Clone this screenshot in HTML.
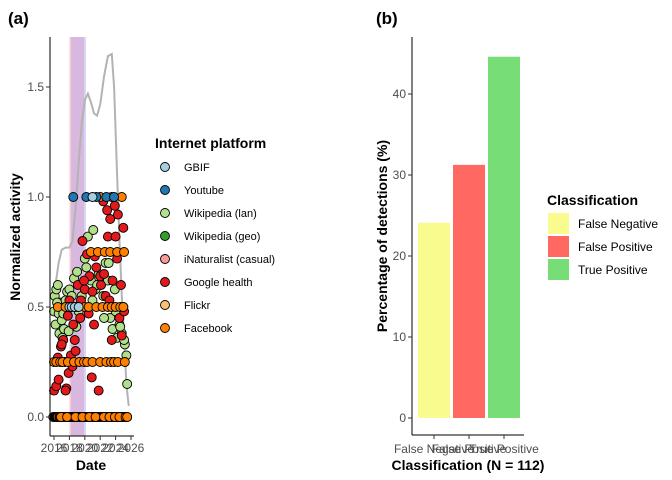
<!DOCTYPE html>
<html><head><meta charset="utf-8"><style>
body{margin:0;background:#fff;}
svg{display:block;font-family:"Liberation Sans",sans-serif;}
</style></head><body>
<svg id="c" width="672" height="480" viewBox="0 0 672 480">
<text x="8" y="24" font-size="17" font-weight="bold">(a)</text>
<text x="376" y="24" font-size="17" font-weight="bold">(b)</text>
<g id="pa"></g>
<g id="pb"></g>
</svg>
<script>
// ---------- Panel (a) data ----------
const yTicksA = [0.0, 0.5, 1.0, 1.5];
const xTicksA = [2016, 2018, 2020, 2022, 2024, 2026];
const densYears = [2016.2,2016.6,2017.0,2017.5,2018.0,2018.4,2018.8,2019.2,2019.6,2020.0,2020.4,2020.8,2021.2,2021.6,2022.0,2022.5,2023.0,2023.5,2023.8,2024.2,2024.5,2024.8,2025.1,2025.4,2025.7];
const densVals = [0.60,0.70,0.76,0.77,0.77,0.80,0.95,1.15,1.33,1.44,1.47,1.43,1.38,1.37,1.42,1.55,1.64,1.65,1.50,1.10,0.80,0.55,0.35,0.15,0.05];
const platforms = ["GBIF","Youtube","Wikipedia (lan)","Wikipedia (geo)","iNaturalist (casual)","Google health","Flickr","Facebook"];
const platColors = ["#a6cee3","#1f78b4","#b2df8a","#33a02c","#fb9a99","#e31a1c","#fdbf6f","#ff7f00"];
const wikiX = [2016.0,2016.1,2016.2,2016.3,2016.5,2016.6,2016.7,2016.8,2017.0,2017.1,2017.3,2017.5,2017.7,2018.0,2018.3,2018.6,2018.9,2019.2,2019.6,2020.0,2020.4,2020.8,2021.1,2021.4,2021.8,2022.1,2022.4,2022.7,2023.0,2023.3,2023.6,2023.9,2024.2,2024.5,2024.8,2025.0,2025.2,2025.4,2016.4,2017.2,2017.9,2019.0,2020.2,2021.0,2021.6,2022.5,2023.1,2024.0,2024.6,2025.1,2025.5];
const wikiY = [0.48,0.55,0.42,0.58,0.60,0.47,0.38,0.52,0.44,0.36,0.40,0.53,0.57,0.58,0.55,0.63,0.41,0.48,0.55,0.72,0.82,0.62,0.85,0.58,0.65,0.60,0.55,0.70,0.62,0.45,0.40,0.58,0.36,0.42,0.38,0.50,0.33,0.28,0.52,0.47,0.39,0.66,0.68,0.53,0.60,0.45,0.70,0.48,0.41,0.35,0.15];
const ghX = [2016.0,2016.3,2016.6,2016.9,2017.2,2017.4,2017.6,2017.8,2018.0,2018.2,2018.5,2018.8,2019.1,2019.4,2019.7,2020.0,2020.3,2020.6,2020.9,2021.2,2021.5,2021.8,2022.1,2022.4,2022.7,2023.0,2023.3,2023.6,2023.9,2024.2,2024.5,2024.8,2025.1,2016.5,2017.0,2017.9,2018.7,2019.5,2020.5,2021.3,2022.0,2022.9,2023.5,2024.3,2025.0,2017.5,2018.4,2019.9,2021.0,2022.5,2023.2,2024.0,2024.7];
const ghY = [0.12,0.14,0.17,0.32,0.35,0.25,0.13,0.46,0.53,0.28,0.42,0.30,0.60,0.45,0.80,0.58,0.74,0.64,0.18,0.42,0.68,0.12,0.60,0.98,0.55,0.82,0.90,0.62,0.96,0.72,0.45,0.37,0.48,0.27,0.33,0.20,0.35,0.53,0.47,0.73,0.64,0.94,0.35,0.92,0.86,0.12,0.23,0.62,0.57,0.65,0.53,0.82,0.60];
const fbX = [2016.5,2017.5,2018.2,2019.0,2020.0,2020.5,2021.5,2022.3,2023.0,2023.5,2024.0,2024.6,2025.0,2016.0,2016.3,2016.8,2017.1,2017.8,2018.6,2019.3,2019.9,2020.3,2021.0,2022.0,2022.8,2023.4,2023.8,2024.3,2025.2,2020.8,2021.7,2022.6,2023.3,2024.2,2025.1,2022.0,2023.5,2024.8,2016.9,2017.7,2018.8,2019.7,2020.6,2021.4,2022.5,2023.2,2023.9,2024.5,2025.3,2025.5];
const fbY = [0.5,0.5,0.5,0.5,0.5,0.5,0.5,0.5,0.5,0.5,0.5,0.5,0.5,0.25,0.25,0.25,0.25,0.25,0.25,0.25,0.25,0.25,0.25,0.25,0.25,0.25,0.25,0.25,0.25,0.75,0.75,0.75,0.75,0.75,0.75,1.0,1.0,1.0,0,0,0,0,0,0,0,0,0,0,0,0];
const ytX = [2018.5,2020.2,2021.5,2022.8,2023.8];
const ytY = [1.0,1.0,1.0,1.0,1.0];
const gbifX = [2018.0,2018.3,2018.7,2019.2,2021.0];
const gbifY = [0.5,0.5,0.5,0.5,1.0];
const zeroX = [2015.9,2016.1,2016.3,2016.5,2016.7,2016.9,2017.1,2017.3,2017.5,2017.7,2017.9,2018.1,2018.3,2018.5,2018.7,2018.9,2019.1,2019.3,2019.5,2019.7,2019.9,2020.1,2020.3,2020.5,2020.7,2020.9,2021.1,2021.3,2021.5,2021.7,2021.9,2022.1,2022.3,2022.5,2022.7,2022.9,2023.1,2023.3,2023.5,2023.7,2023.9,2024.1,2024.3,2024.5,2024.7,2024.9,2025.1,2025.3,2025.5];

// ---------- Panel (b) data ----------
const classes = ["False Negative","False Positive","True Positive"];
const pct = [24.1, 31.25, 44.6];
const classColors = ["#f9fb8e","#ff6961","#77dd77"];
const yTicksB = [0, 10, 20, 30, 40];

const NS="http://www.w3.org/2000/svg";
function mk(p,t,a){const e=document.createElementNS(NS,t);for(const k in a)e.setAttribute(k,a[k]);p.appendChild(e);return e;}

// ---- Panel a ----
const pa=document.getElementById('pa');
const xA=y=>54+(y-2016)*7.7;
const yA=v=>417-v*220;
let r;
r=mk(pa,'rect',{x:xA(2018.0),y:37,width:xA(2018.2)-xA(2018.0),height:399,fill:'#f6cfcf'});

r=mk(pa,'rect',{x:xA(2018.2),y:37,width:xA(2019.9)-xA(2018.2),height:399,fill:'#d8b8df'});

r=mk(pa,'rect',{x:xA(2019.9),y:37,width:xA(2020.15)-xA(2019.9),height:399,fill:'#d4d4f6'});

let d=densYears.map((yr,i)=>(i?'L':'M')+xA(yr).toFixed(1)+','+yA(densVals[i]).toFixed(1)).join('');
r=mk(pa,'path',{d:d,fill:'none',stroke:'#b3b3b3','stroke-width':2});

function pts(xs,ys,col,name){xs.forEach((x,i)=>{const c=mk(pa,'circle',{cx:xA(x),cy:yA(ys[i]),r:4.5,fill:col,stroke:'#000','stroke-width':0.9});

});}
zeroX.forEach((x,i)=>{const c=mk(pa,'circle',{cx:xA(x),cy:yA(0),r:4.5,fill:(i%3==0?'#ff7f00':'#000'),stroke:'#000','stroke-width':0.9});

});
pts(wikiX,wikiY,platColors[2],'point-wikipedia-lan');
pts(ghX,ghY,platColors[5],'point-google-health');
pts(fbX,fbY,platColors[7],'point-facebook');
pts(ytX,ytY,platColors[1],'point-youtube');
pts(gbifX,gbifY,platColors[0],'point-gbif');
r=mk(pa,'line',{x1:50,y1:37,x2:50,y2:436,stroke:'#000','stroke-width':1});

r=mk(pa,'line',{x1:50,y1:436,x2:134,y2:436,stroke:'#000','stroke-width':1});

yTicksA.forEach(v=>{mk(pa,'line',{x1:46,y1:yA(v),x2:50,y2:yA(v),stroke:'#333'});
const t=mk(pa,'text',{x:44,y:yA(v)+4,'font-size':12,'text-anchor':'end',fill:'#4d4d4d'});t.textContent=v.toFixed(1);
});
xTicksA.forEach(v=>{mk(pa,'line',{x1:xA(v),y1:436,x2:xA(v),y2:440,stroke:'#333'});
const t=mk(pa,'text',{x:xA(v),y:452,'font-size':12,'text-anchor':'middle',fill:'#4d4d4d'});t.textContent=v;
});
r=mk(pa,'text',{x:91,y:470,'font-size':14,'font-weight':'bold','text-anchor':'middle'});r.textContent='Date';

r=mk(pa,'text',{x:20,y:237,'font-size':14,'font-weight':'bold','text-anchor':'middle',transform:'rotate(-90 20 237)'});r.textContent='Normalized activity';

r=mk(pa,'text',{x:155,y:148,'font-size':14,'font-weight':'bold'});r.textContent='Internet platform';

platforms.forEach((p,i)=>{const y=167+i*23;
const c=mk(pa,'circle',{cx:165,cy:y,r:4.5,fill:platColors[i],stroke:'#000','stroke-width':0.9});

const t=mk(pa,'text',{x:184,y:y+4,'font-size':11});t.textContent=p;
});

// ---- Panel b ----
const pb=document.getElementById('pb');
const yB=v=>418-v*8.1;
const bx=[434,469,504];
pct.forEach((v,i)=>{const b=mk(pb,'rect',{x:bx[i]-16,y:yB(v),width:32,height:yB(0)-yB(v),fill:classColors[i]});

});
r=mk(pb,'line',{x1:412,y1:37,x2:412,y2:435,stroke:'#000'});

r=mk(pb,'line',{x1:412,y1:435,x2:524,y2:435,stroke:'#000'});

yTicksB.forEach(v=>{mk(pb,'line',{x1:408,y1:yB(v),x2:412,y2:yB(v),stroke:'#333'});
const t=mk(pb,'text',{x:406,y:yB(v)+4,'font-size':12,'text-anchor':'end',fill:'#4d4d4d'});t.textContent=v;
});
classes.forEach((c,i)=>{mk(pb,'line',{x1:bx[i],y1:435,x2:bx[i],y2:439,stroke:'#333'});
const t=mk(pb,'text',{x:bx[i],y:453,'font-size':12,'text-anchor':'middle',fill:'#4d4d4d'});t.textContent=c;
});
r=mk(pb,'text',{x:468,y:470,'font-size':14,'font-weight':'bold','text-anchor':'middle'});r.textContent='Classification (N = 112)';

r=mk(pb,'text',{x:387,y:236,'font-size':14,'font-weight':'bold','text-anchor':'middle',transform:'rotate(-90 387 236)'});r.textContent='Percentage of detections (%)';

r=mk(pb,'text',{x:547,y:205,'font-size':14,'font-weight':'bold'});r.textContent='Classification';

classes.forEach((c,i)=>{const y=213+i*23;
const k=mk(pb,'rect',{x:548,y:y,width:21,height:21,fill:classColors[i]});

const t=mk(pb,'text',{x:578,y:y+15,'font-size':12});t.textContent=c;
});
</script>
</body></html>
